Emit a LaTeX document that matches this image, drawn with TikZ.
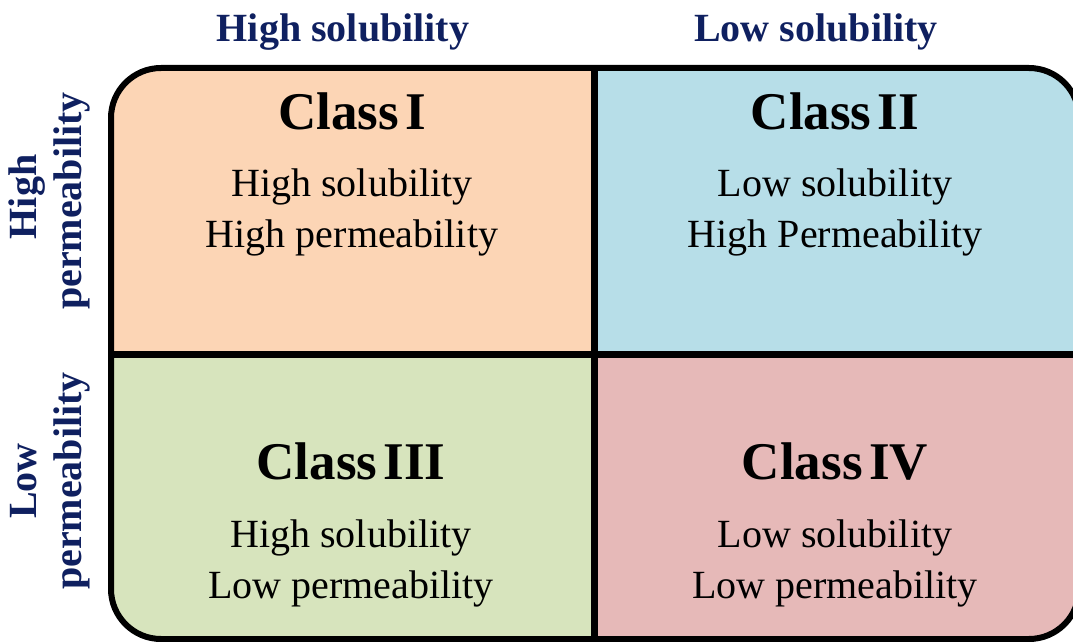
\documentclass[tikz,border=0pt]{standalone}
\usepackage{fontspec}
\setmainfont{Liberation Serif}
\usepackage{xcolor}
\usepackage{tikz}
\usetikzlibrary{positioning}

\definecolor{peach}{HTML}{FCD5B5}
\definecolor{aqua}{HTML}{B7DEE8}
\definecolor{olive}{HTML}{D7E4BD}
\definecolor{rose}{HTML}{E6B9B8}
\definecolor{navy}{HTML}{0F2060}

\newcommand{\headfont}{\fontsize{20}{24}\selectfont\bfseries}
\newcommand{\classfont}{\fontsize{26.5}{30}\selectfont\bfseries\spaceskip=0.12em\relax}
\newcommand{\cellfont}{\fontsize{20}{26}\selectfont}

\tikzstyle{head} = [anchor=base, inner sep=0pt, text=navy, font=\headfont]
\tikzstyle{side} = [head, rotate=90]
\tikzstyle{classname} = [anchor=base, inner sep=0pt, font=\classfont]
\tikzstyle{celltext} = [anchor=base, inner sep=0pt, font=\cellfont]

\begin{document}
\begin{tikzpicture}[x=0.5pt, y=-0.5pt]
    \useasboundingbox (0,0) rectangle (1073,642);

    % quadrant fills
    \begin{scope}
        \clip[rounded corners=25pt] (111,68) rectangle (1079,639);
        \fill[peach] (111,68) rectangle (594,355);
        \fill[aqua] (594,68) rectangle (1079,355);
        \fill[olive] (111,355) rectangle (594,639);
        \fill[rose] (594,355) rectangle (1079,639);
    \end{scope}
    \coordinate (top) at (594,68);
    \coordinate (bottom) at (594,639);
    \coordinate (left) at (111,355);
    \coordinate (right) at (1079,355);
    \draw[line width=3.5pt] (top) -- (bottom);
    \draw[line width=3.5pt] (left) -- (right);
    \draw[line width=3pt, rounded corners=25pt] (111,68) rectangle (1079,639);

    % column and row headings
    \node (hsol) [head] at (343,42) {High solubility};
    \node (lsol) [head] at (816,42) {Low solubility};
    \node (hperm1) [side] at (37,197) {High};
    \node (hperm2) [side] at (82,201) {permeability};
    \node (lperm1) [side] at (37,481) {Low};
    \node (lperm2) [side] at (82,481) {permeability};

    % class I
    \node (c1) [classname] at (352,130) {Class I};
    \node (c1a) [celltext] at (352,197) {High solubility};
    \node (c1b) [celltext] at (352,248) {High permeability};
    % class II
    \node (c2) [classname] at (835,130) {Class II};
    \node (c2a) [celltext] at (835,197) {Low solubility};
    \node (c2b) [celltext] at (835,248) {High Permeability};
    % class III
    \node (c3) [classname] at (351,480) {Class III};
    \node (c3a) [celltext] at (351,547) {High solubility};
    \node (c3b) [celltext] at (351,598) {Low permeability};
    % class IV
    \node (c4) [classname] at (835,480) {Class IV};
    \node (c4a) [celltext] at (835,547) {Low solubility};
    \node (c4b) [celltext] at (835,598) {Low permeability};
\end{tikzpicture}
\end{document}
